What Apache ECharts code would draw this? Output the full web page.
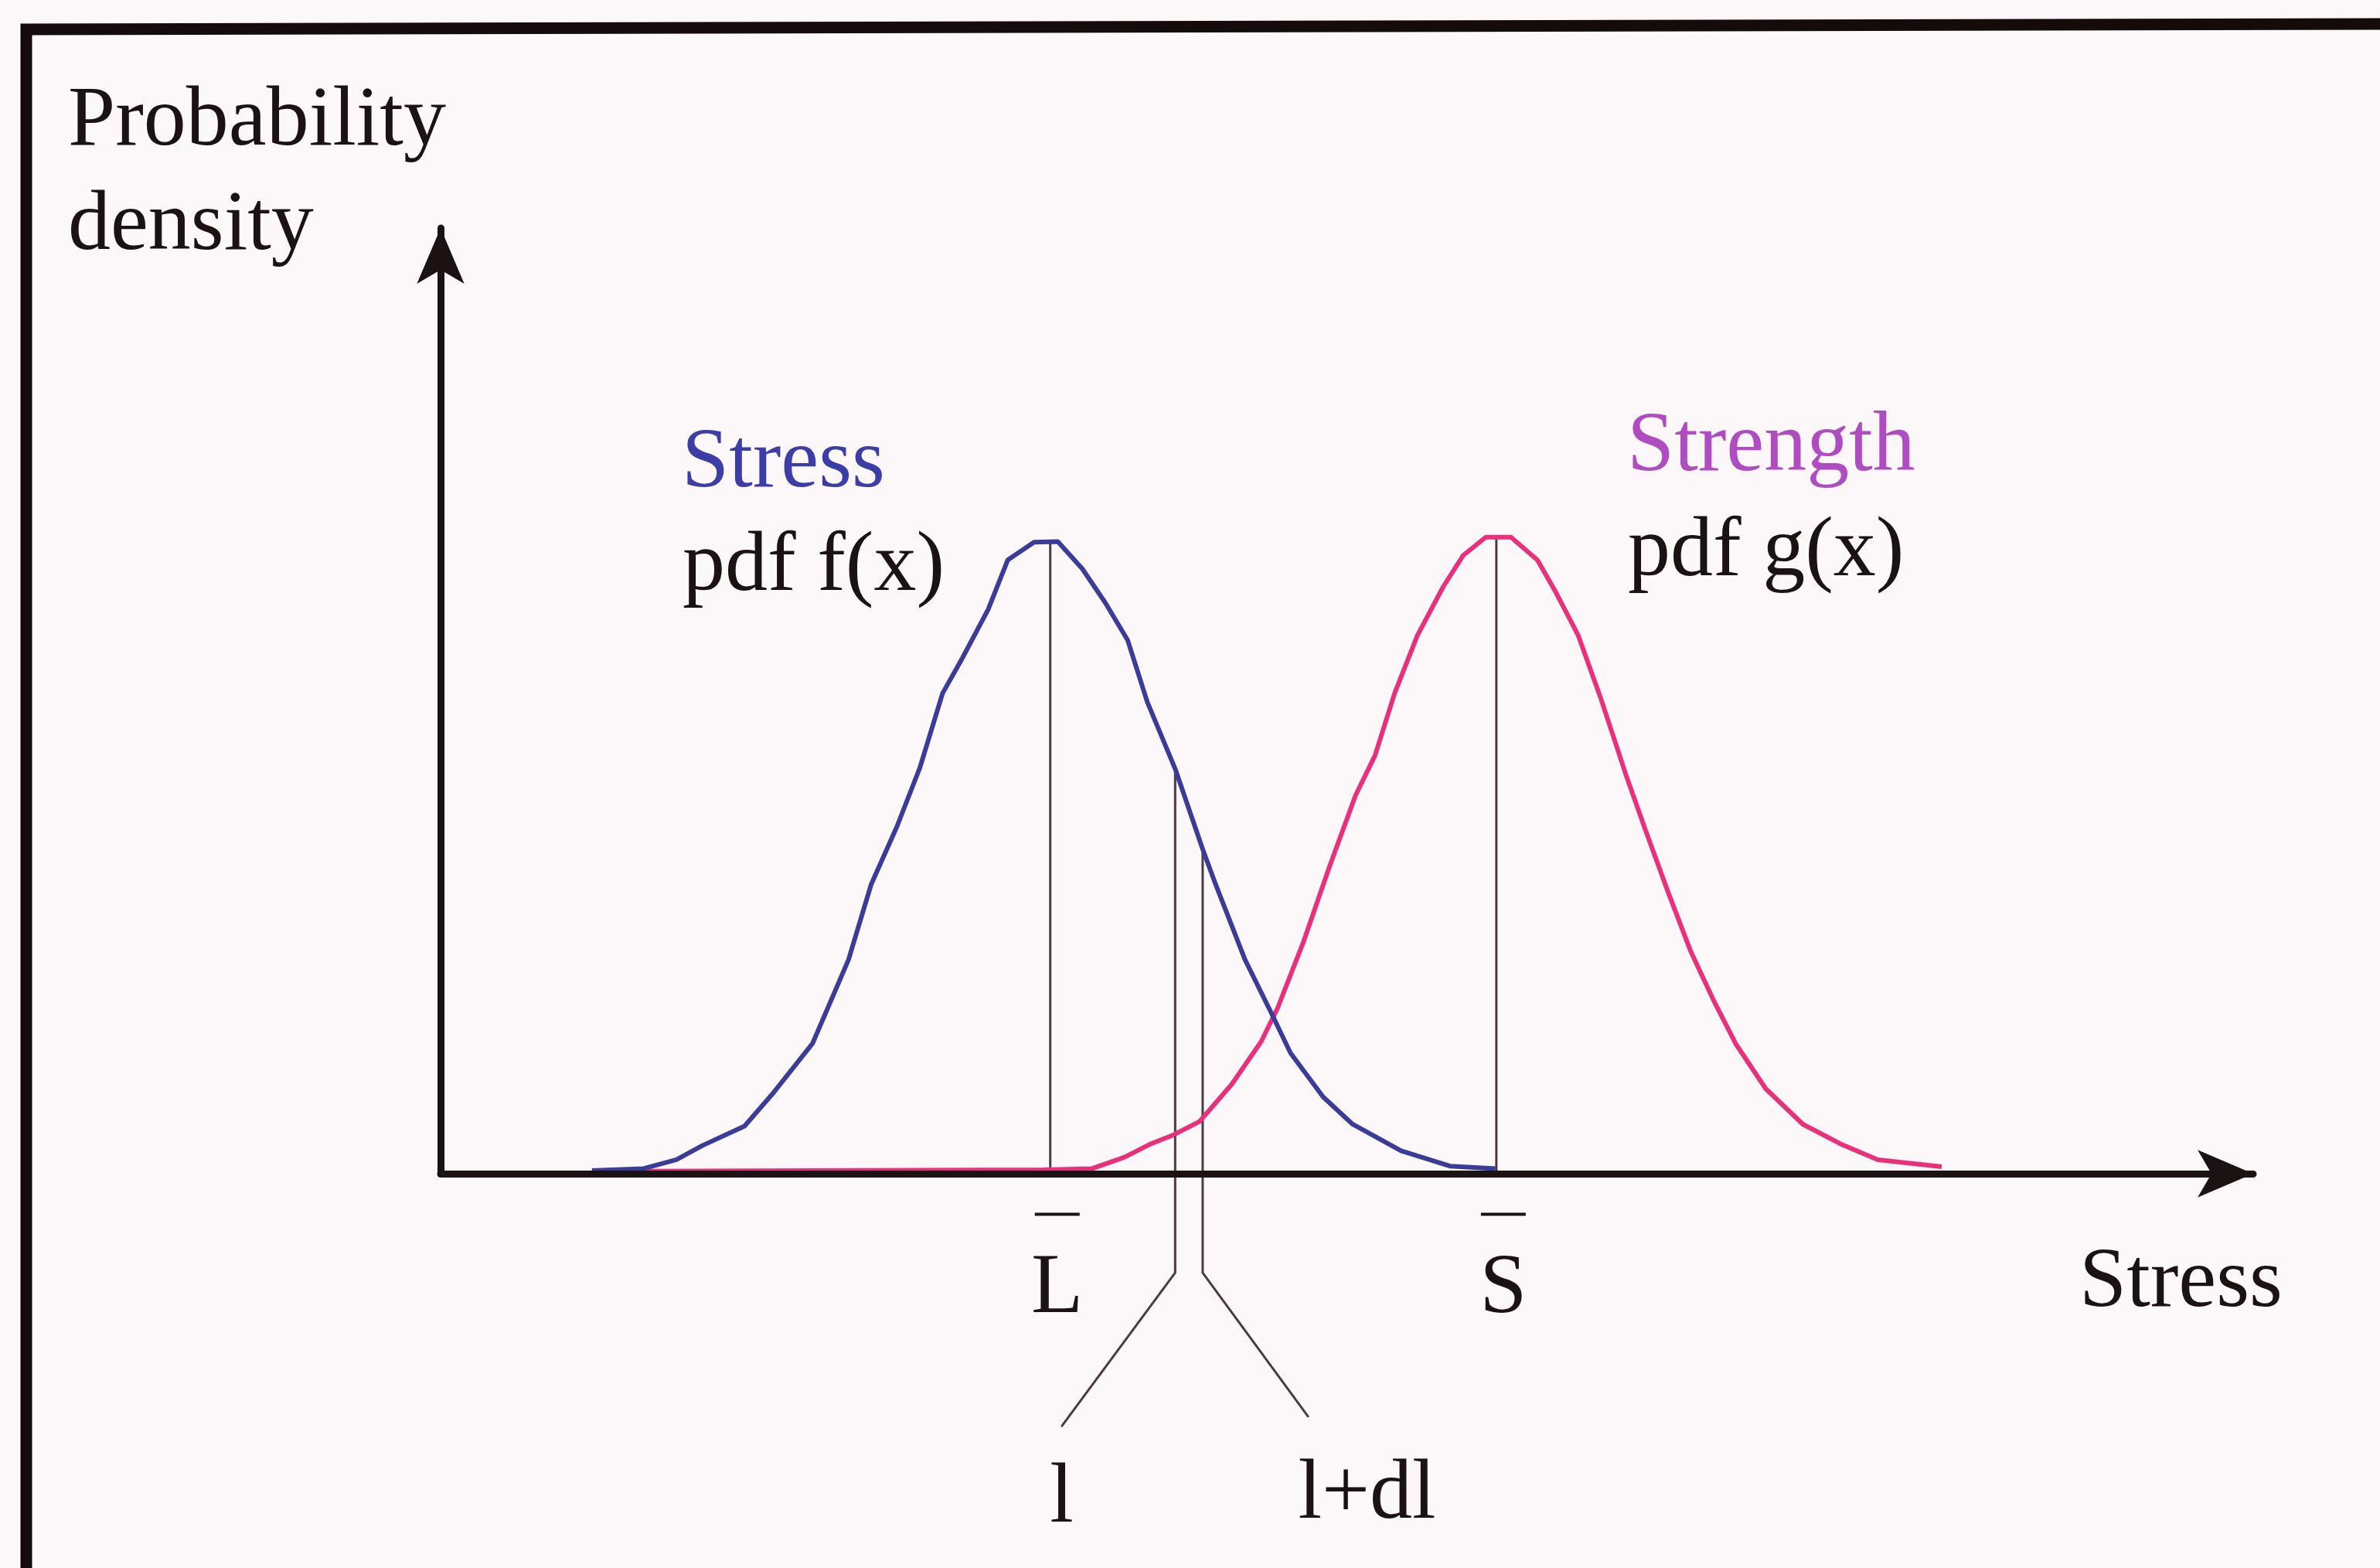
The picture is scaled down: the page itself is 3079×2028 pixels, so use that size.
<!DOCTYPE html>
<html>
<head>
<meta charset="utf-8">
<script src="https://cdn.jsdelivr.net/npm/echarts@6/dist/echarts.min.js"></script>
<style>
  html, body { margin: 0; padding: 0; background: #fcf8fa; }
  #chart { width: 3079px; height: 2028px; }
</style>
</head>
<body>
<div id="chart"></div>
<script>
// Stress (applied load) density f(x), sampled along the stress axis
const stressX = [9.18, 12.65, 14.86, 16.58, 19.44, 21.40, 24.01, 26.43, 27.96, 29.69, 31.22, 32.76, 34.08, 35.82, 37.14, 38.91, 40.51, 42.16, 43.69, 45.20, 46.53, 48.40, 50.24, 51.12, 53.10, 54.85, 56.16, 58.35, 60.33, 63.59, 66.88, 69.94];
const stressPdf = [0.005, 0.008, 0.022, 0.044, 0.075, 0.128, 0.205, 0.337, 0.456, 0.547, 0.639, 0.757, 0.812, 0.889, 0.967, 0.995, 0.996, 0.953, 0.900, 0.841, 0.743, 0.638, 0.512, 0.456, 0.337, 0.254, 0.190, 0.121, 0.078, 0.036, 0.012, 0.008];

// Strength density g(x)
const strengthX = [12.65, 39.54, 42.82, 45.00, 46.76, 48.27, 50.03, 52.21, 54.18, 55.29, 57.04, 58.78, 60.53, 61.84, 63.16, 64.69, 66.43, 67.76, 69.29, 70.98, 72.76, 73.98, 75.51, 77.01, 78.78, 80.05, 81.56, 83.06, 84.59, 86.09, 88.11, 90.61, 93.14, 95.66, 99.95];
const strengthPdf = [0.004, 0.006, 0.008, 0.026, 0.047, 0.061, 0.082, 0.141, 0.208, 0.261, 0.366, 0.484, 0.596, 0.659, 0.757, 0.848, 0.925, 0.974, 1.003, 1.003, 0.967, 0.917, 0.848, 0.750, 0.624, 0.540, 0.443, 0.351, 0.274, 0.205, 0.134, 0.078, 0.047, 0.022, 0.011];

// Means shown under the axis
const meanLoad = 40;       // L-bar
const meanStrength = 70;   // S-bar
const meanTicks = [meanLoad, meanStrength];
const meanTickNames = ['L', 'S'];

// Strip l .. l+dl and its callout legs (value units)
const stripLeft = 48.40;
const stripRight = 50.25;
const calloutBend = -0.156;
const calloutLeftEnd = [40.77, -0.398];
const calloutRightEnd = [57.35, -0.383];
const calloutNames = ['l', 'l+dl'];

// Axis extents
const xMin = -1, xMax = 120.9;
const yMin = 0, yMax = 1.49;

const SERIF = '"Liberation Serif", "Times New Roman", serif';
const INK = '#1b1214';
const LEG = '#4a3c40';

function zip(xs, ys) { return xs.map((x, i) => [x, ys[i]]); }
// height of a sampled curve at x (so the drop lines end on the curve)
function curveAt(xs, ys, x) {
  for (let i = 0; i < xs.length - 1; i++) {
    if (x >= xs[i] && x <= xs[i + 1]) {
      const t = (x - xs[i]) / (xs[i + 1] - xs[i]);
      return ys[i] + t * (ys[i + 1] - ys[i]);
    }
  }
  return 0;
}

const chart = echarts.init(document.getElementById('chart'), null, { renderer: 'canvas' });

function dropLine(x, top) {
  return {
    type: 'line', silent: true, symbol: 'none', clip: false,
    data: [[x, 0], [x, top]],
    lineStyle: { color: LEG, width: 3 }, z: 3
  };
}

function callout(x, top, end) {
  return {
    type: 'line', silent: true, symbol: 'none', clip: false,
    data: [[x, top], [x, calloutBend], end],
    lineStyle: { color: LEG, width: 3 }, z: 3
  };
}

function txt(text, x, baseline, color) {
  return {
    type: 'text', x: x, y: baseline - 37, z: 50,
    style: { text: text, fill: color, font: '110px ' + SERIF, align: 'left', verticalAlign: 'middle' }
  };
}

const calloutLabel = { show: true, position: 'bottom', fontSize: 110, fontFamily: SERIF, color: INK, opacity: 1 };

const option = {
  backgroundColor: '#fcf8fa',
  animation: false,
  grid: { left: 570, right: 164, top: 295, bottom: 510, containLabel: false },
  xAxis: {
    type: 'value', min: xMin, max: xMax, z: 10,
    splitLine: { show: false },
    axisTick: { show: false },
    axisLine: { onZero: true, lineStyle: { color: INK, width: 9 }, symbol: ['none', 'arrow'], symbolSize: [46, 72] },
    axisLabel: {
      customValues: meanTicks,
      margin: 50,
      padding: [0, 0, 0, 18],
      formatter: v => '{bar|}\n{t|' + meanTickNames[meanTicks.indexOf(v)] + '}',
      rich: {
        bar: { width: 58, height: 4, lineHeight: 5, backgroundColor: INK },
        t: { fontSize: 110, fontFamily: SERIF, color: INK, lineHeight: 190 }
      }
    }
  },
  yAxis: {
    type: 'value', min: yMin, max: yMax, z: 10,
    splitLine: { show: false },
    axisTick: { show: false },
    axisLabel: { show: false },
    axisLine: { onZero: false, lineStyle: { color: INK, width: 9 }, symbol: ['none', 'arrow'], symbolSize: [46, 72] }
  },
  series: [
    {
      name: 'Strength', type: 'line', symbol: 'none', silent: true,
      data: zip(strengthX, strengthPdf),
      lineStyle: { color: '#e8317a', width: 6 }, z: 4
    },
    {
      name: 'Stress', type: 'line', symbol: 'none', silent: true,
      data: zip(stressX, stressPdf),
      lineStyle: { color: '#3b3b98', width: 6 }, z: 5
    },
    dropLine(meanLoad, curveAt(stressX, stressPdf, meanLoad)),
    dropLine(meanStrength, curveAt(strengthX, strengthPdf, meanStrength)),
    callout(stripLeft, curveAt(stressX, stressPdf, stripLeft), calloutLeftEnd),
    callout(stripRight, curveAt(stressX, stressPdf, stripRight), calloutRightEnd),
    {
      // names at the foot of the two callout legs
      type: 'scatter', silent: true, clip: false, symbolSize: 2,
      itemStyle: { color: LEG, opacity: 1 },
      data: [
        { value: calloutLeftEnd, label: Object.assign({ formatter: calloutNames[0], distance: 38 }, calloutLabel) },
        { value: calloutRightEnd, label: Object.assign({ formatter: calloutNames[1], distance: 46, align: 'left', offset: [-13, 0] }, calloutLabel) }
      ],
      z: 6
    }
  ],
  graphic: [
    {
      type: 'polyline', z: 60, silent: true,
      shape: { points: [[34, 2060], [34, 38], [3100, 31]] },
      style: { stroke: '#150a0c', lineWidth: 15, fill: null }
    },
    txt('Probability', 88, 195, INK),
    txt('density', 88, 330, INK),
    txt('Stress', 882, 637, '#3d3da8'),
    txt('pdf f(x)', 883, 771, INK),
    txt('Strength', 2105, 616, '#b04cc2'),
    txt('pdf g(x)', 2106, 752, INK),
    txt('Stress', 2690, 1697, INK)
  ]
};

chart.setOption(option);
</script>
</body>
</html>
